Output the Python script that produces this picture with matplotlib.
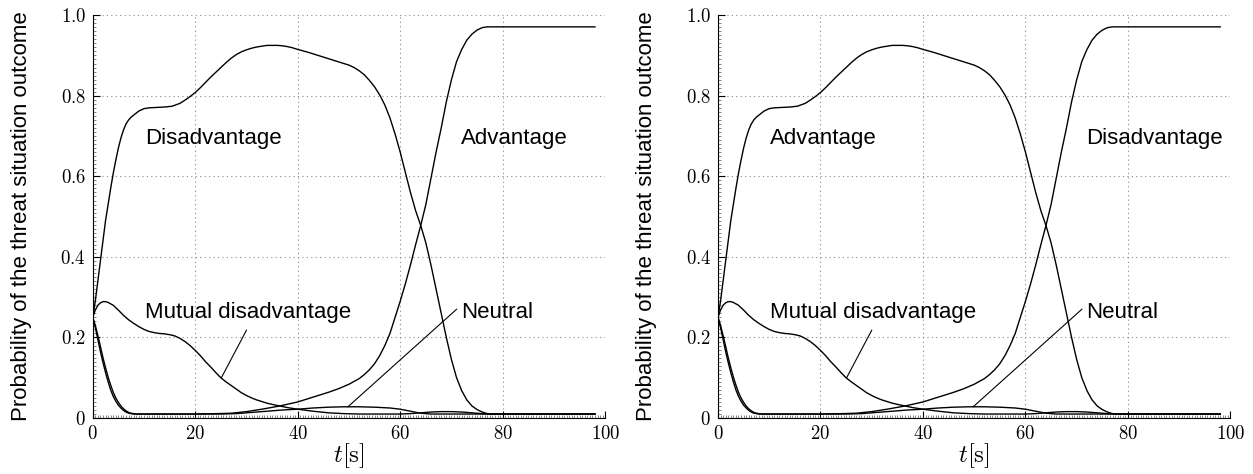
import numpy as np
import matplotlib
matplotlib.use("Agg")
import matplotlib.pyplot as plt
from matplotlib.ticker import MultipleLocator, FuncFormatter

plt.rcParams['mathtext.fontset'] = 'cm'
plt.rcParams['font.family'] = ['Liberation Sans', 'DejaVu Sans']

# curves (same in both panels)
t_dis = [0, 0.5, 1, 1.5, 2, 2.5, 3, 3.5, 4, 4.5, 5, 5.5, 6, 6.5, 7, 7.5, 8, 9, 10, 11, 12.5, 14, 15.5,
         17, 18, 19, 20, 21, 22, 23, 24, 25, 26, 27, 28, 29, 30, 31, 32, 33, 34, 35, 36, 37, 38, 39,
         40, 42, 44, 46, 48, 50, 51, 52, 53, 54, 55, 56, 57, 58, 59, 60, 61, 62, 63, 64, 65, 66, 67,
         68, 69, 70, 71, 72, 73, 74, 75, 76, 77, 77.5, 98]
p_dis = [0.25, 0.29, 0.34, 0.39, 0.44, 0.49, 0.53, 0.57, 0.607, 0.64, 0.67, 0.695, 0.715, 0.73, 0.74,
         0.747, 0.752, 0.762, 0.768, 0.77, 0.771, 0.772, 0.774, 0.781, 0.789, 0.798, 0.808, 0.82, 0.833,
         0.846, 0.858, 0.87, 0.882, 0.893, 0.902, 0.909, 0.914, 0.918, 0.921, 0.923, 0.925, 0.925, 0.925,
         0.924, 0.922, 0.919, 0.915, 0.908, 0.9, 0.892, 0.884, 0.876, 0.87, 0.862, 0.852, 0.838, 0.822,
         0.802, 0.777, 0.745, 0.705, 0.66, 0.61, 0.56, 0.515, 0.478, 0.435, 0.38, 0.32, 0.26, 0.2, 0.145,
         0.1, 0.068, 0.045, 0.03, 0.021, 0.015, 0.011, 0.01, 0.01]

t_adv = [0, 0.5, 1, 1.5, 2, 2.5, 3, 3.5, 4, 4.5, 5, 5.5, 6, 6.5, 7, 8, 20, 24, 27, 30, 33, 36.5, 40, 43,
         46, 48, 50, 52, 53, 54, 55, 56, 57, 58, 59, 60, 61, 62, 63, 64, 65, 66, 67, 68, 69, 70, 71, 72,
         73, 74, 75, 76, 77, 98]
p_adv = [0.25, 0.225, 0.195, 0.165, 0.138, 0.113, 0.09, 0.07, 0.054, 0.042, 0.032, 0.025, 0.019, 0.015,
         0.012, 0.01, 0.01, 0.011, 0.012, 0.016, 0.022, 0.03, 0.04, 0.052, 0.064, 0.073, 0.084, 0.098,
         0.108, 0.12, 0.135, 0.155, 0.18, 0.21, 0.25, 0.29, 0.333, 0.38, 0.43, 0.478, 0.53, 0.595, 0.66,
         0.72, 0.785, 0.84, 0.885, 0.915, 0.938, 0.953, 0.963, 0.969, 0.971, 0.971]

t_mut = [0, 0.5, 1, 1.5, 2, 2.5, 3, 4, 5, 6, 7, 8, 9, 10, 11, 12, 13, 14, 15, 16, 17, 18, 19, 20, 21,
         22, 23, 24, 25, 26, 27, 28, 29, 30, 31, 32, 33, 34, 35, 36.5, 38, 40, 43, 46, 49, 52, 60, 62,
         64, 66, 68, 70, 72, 74, 76, 77.5, 98]
p_mut = [0.25, 0.268, 0.28, 0.286, 0.289, 0.289, 0.287, 0.28, 0.268, 0.255, 0.244, 0.235, 0.227, 0.22,
         0.215, 0.212, 0.21, 0.209, 0.207, 0.204, 0.198, 0.19, 0.18, 0.168, 0.155, 0.14, 0.127, 0.113,
         0.1, 0.09, 0.081, 0.072, 0.063, 0.056, 0.05, 0.045, 0.041, 0.037, 0.034, 0.03, 0.026, 0.022,
         0.017, 0.013, 0.011, 0.01, 0.01, 0.011, 0.013, 0.015, 0.016, 0.016, 0.015, 0.013, 0.011, 0.01,
         0.01]

t_neu = [0, 0.5, 1, 1.5, 2, 2.5, 3, 3.5, 4, 4.5, 5, 5.5, 6, 6.5, 7, 7.5, 8.5, 25, 28, 31, 34, 37, 40,
         43, 46, 49, 52, 55, 58, 60, 62, 64, 66, 98]
p_neu = [0.25, 0.23, 0.205, 0.178, 0.15, 0.125, 0.102, 0.082, 0.064, 0.05, 0.039, 0.03, 0.023, 0.018,
         0.014, 0.012, 0.01, 0.01, 0.011, 0.014, 0.017, 0.02, 0.022, 0.025, 0.027, 0.028, 0.028, 0.027,
         0.025, 0.022, 0.017, 0.012, 0.01, 0.01]

left_labels = ["Disadvantage", "Advantage", "Mutual disadvantage", "Neutral"]
right_labels = ["Advantage", "Disadvantage", "Mutual disadvantage", "Neutral"]

fig = plt.figure(figsize=(12.53, 4.74), dpi=100)
ax1 = fig.add_axes([0.074, 0.118, 0.409, 0.85])
ax2 = fig.add_axes([0.573, 0.118, 0.409, 0.85])

for ax, labels in [(ax1, left_labels), (ax2, right_labels)]:
    ax.plot(t_dis, p_dis, color='black', lw=1)
    ax.plot(t_adv, p_adv, color='black', lw=1)
    ax.plot(t_mut, p_mut, color='black', lw=1)
    ax.plot(t_neu, p_neu, color='black', lw=1)

    ax.set_xlim(0, 100)
    ax.set_ylim(0, 1)
    ax.spines['top'].set_visible(False)
    ax.spines['right'].set_visible(False)
    ax.xaxis.set_major_locator(MultipleLocator(20))
    ax.yaxis.set_major_locator(MultipleLocator(0.2))
    ax.xaxis.set_minor_locator(MultipleLocator(0.5))
    ax.yaxis.set_minor_locator(MultipleLocator(0.01))
    ax.tick_params(which='major', direction='in', length=5, width=0.8, labelsize=13.5, pad=5)
    ax.tick_params(which='minor', direction='in', length=2.5, width=0.5, color='#555555')
    ax.xaxis.set_major_formatter(FuncFormatter(lambda v, pos: '$%g$' % v))
    ax.yaxis.set_major_formatter(FuncFormatter(lambda v, pos: '$0$' if v == 0 else '$%.1f$' % v))
    ax.grid(True, which='major', linestyle=(0, (1, 3)), color='#888888', lw=0.8)

    ax.set_xlabel(r'$t[\mathrm{s}]$', fontsize=18, labelpad=-1)
    ax.set_ylabel('Probability of the threat situation outcome', fontsize=16)
    ax.yaxis.set_label_coords(-0.118, 0.5)

    ax.text(10.2, 0.68, labels[0], fontsize=16, va='baseline')
    ax.text(71.9, 0.68, labels[1], fontsize=16, va='baseline')
    ax.text(10.2, 0.248, labels[2], fontsize=16, va='baseline')
    ax.text(71.9, 0.248, labels[3], fontsize=16, va='baseline')
    ax.plot([25.1, 30], [0.10, 0.218], color='black', lw=0.8)
    ax.plot([49.8, 71], [0.028, 0.27], color='black', lw=0.8)

fig.savefig('out.png', dpi=100)
